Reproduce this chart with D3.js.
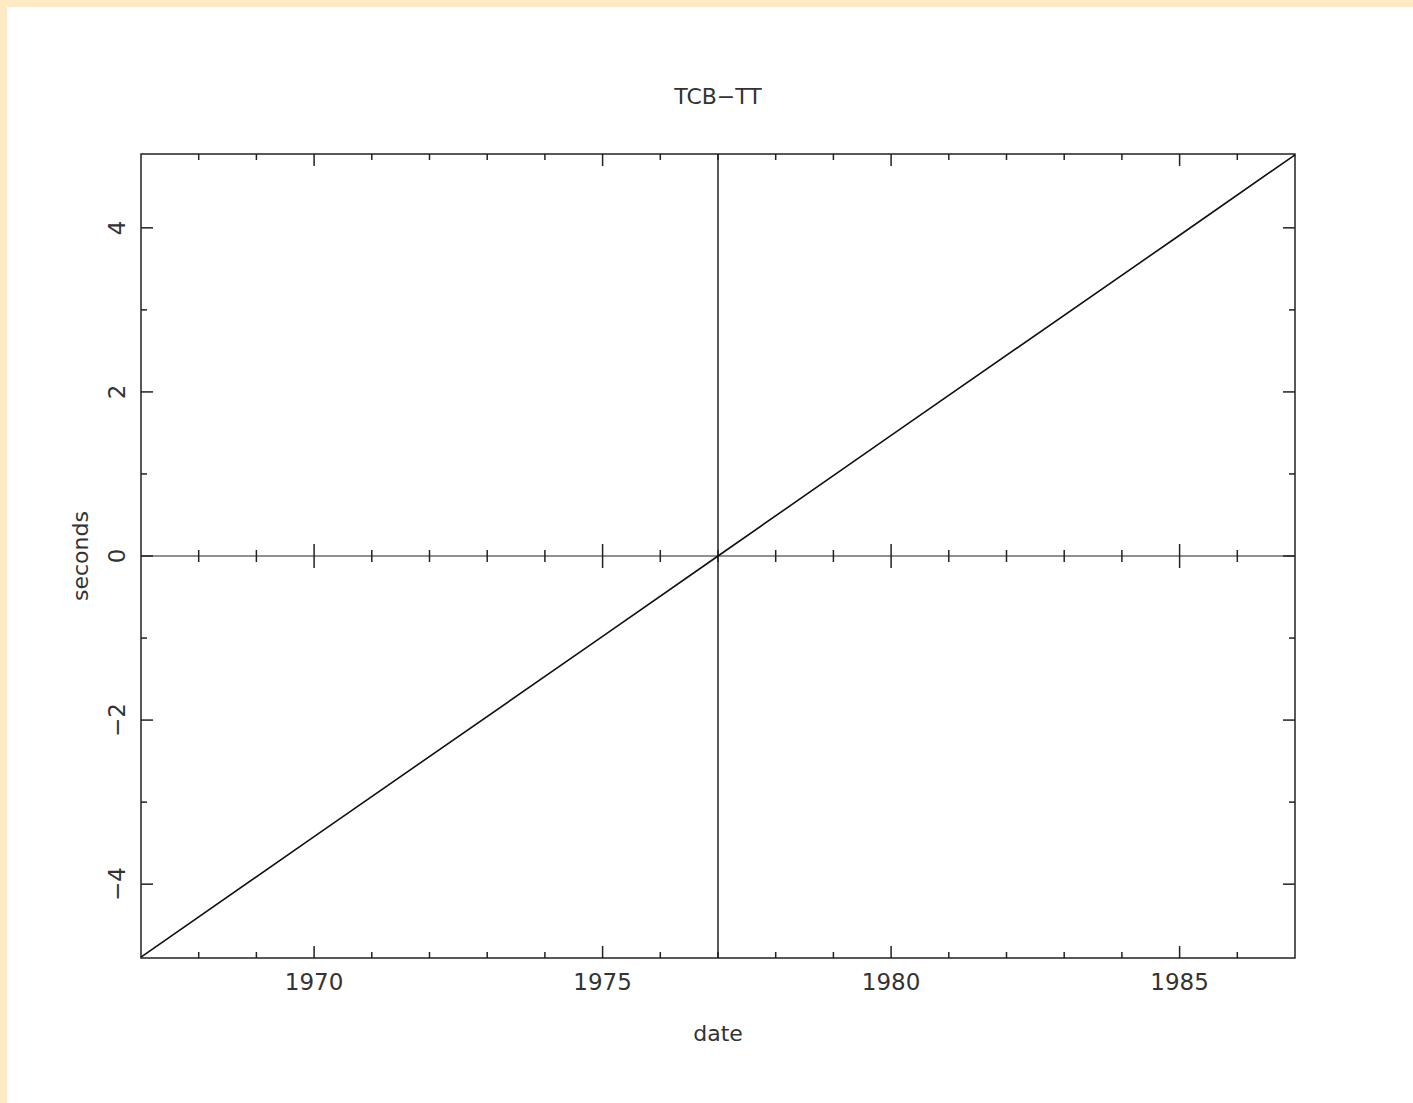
<!DOCTYPE html>
<html>
<head>
<meta charset="utf-8">
<script src="https://cdn.jsdelivr.net/npm/d3@7"></script>
<style>
  body { margin: 0; background: #ffebc3; }
  svg { display: block; }
  text { font-family: "DejaVu Sans", sans-serif; fill: #333; }
</style>
</head>
<body>
<svg id="chart" width="1413" height="1103"></svg>
<script>
// TCB-TT values (seconds)
const years = [1967, 1970, 1975, 1977, 1980, 1985, 1987];
const seconds = [-4.89, -3.42, -0.98, 0, 1.47, 3.91, 4.89];
const xMajor = [1970, 1975, 1980, 1985];
const yMajor = [-4, -2, 0, 2, 4];
const refYear = 1977;

const svg = d3.select("#chart");
svg.append("rect")
  .attr("x", 7).attr("y", 7)
  .attr("width", 1413).attr("height", 1103)
  .attr("fill", "white");

const plotLeft = 141, plotRight = 1295, plotTop = 154, plotBottom = 958;

const x = d3.scaleLinear().domain([1967, 1987]).range([plotLeft, plotRight]);
const y = d3.scaleLinear().domain([-4.9, 4.9]).range([plotBottom, plotTop]);

const ink = "#222";
const g = svg.append("g").attr("stroke", ink).attr("stroke-width", 1.5).attr("fill", "none");

// frame
g.append("rect")
  .attr("x", plotLeft).attr("y", plotTop)
  .attr("width", plotRight - plotLeft).attr("height", plotBottom - plotTop);

const xMinor = d3.range(1968, 1987).filter((d) => !xMajor.includes(d));
const yMinor = d3.range(-4, 5).filter((d) => !yMajor.includes(d));

// x ticks on top and bottom edges, pointing inward
function xTicks(values, len) {
  values.forEach((d) => {
    g.append("line").attr("x1", x(d)).attr("x2", x(d))
      .attr("y1", plotBottom).attr("y2", plotBottom - len);
    g.append("line").attr("x1", x(d)).attr("x2", x(d))
      .attr("y1", plotTop).attr("y2", plotTop + len);
    // ticks on the zero line, both sides
    g.append("line").attr("x1", x(d)).attr("x2", x(d))
      .attr("y1", y(0) - len).attr("y2", y(0) + len);
  });
}
xTicks(xMajor, 12);
xTicks(xMinor, 6);

function yTicks(values, len) {
  values.forEach((d) => {
    g.append("line").attr("x1", plotLeft).attr("x2", plotLeft + len)
      .attr("y1", y(d)).attr("y2", y(d));
    g.append("line").attr("x1", plotRight).attr("x2", plotRight - len)
      .attr("y1", y(d)).attr("y2", y(d));
  });
}
yTicks(yMajor, 12);
yTicks(yMinor, 6);

// zero line and reference epoch
g.append("line").attr("x1", plotLeft).attr("x2", plotRight)
  .attr("y1", y(0)).attr("y2", y(0)).attr("stroke-width", 1.2);
g.append("line").attr("x1", x(refYear)).attr("x2", x(refYear))
  .attr("y1", plotTop).attr("y2", plotBottom);

// data line
const line = d3.line().x((d, i) => x(years[i])).y((d) => y(d));
svg.append("path")
  .attr("d", line(seconds))
  .attr("fill", "none")
  .attr("stroke", "#111")
  .attr("stroke-width", 1.6);

// labels
svg.selectAll(".xl").data(xMajor).enter().append("text")
  .attr("x", (d) => x(d)).attr("y", 990)
  .attr("text-anchor", "middle")
  .attr("font-size", 23)
  .text((d) => d);

svg.selectAll(".yl").data(yMajor).enter().append("text")
  .attr("transform", (d) => `translate(125,${y(d)}) rotate(-90)`)
  .attr("text-anchor", "middle")
  .attr("font-size", 23)
  .text((d) => (d < 0 ? "\u2212" + Math.abs(d) : d));

svg.append("text")
  .attr("x", 718).attr("y", 104)
  .attr("text-anchor", "middle")
  .attr("font-size", 22)
  .text("TCB\u2212TT");

svg.append("text")
  .attr("x", 718).attr("y", 1041)
  .attr("text-anchor", "middle")
  .attr("font-size", 22)
  .text("date");

svg.append("text")
  .attr("transform", `translate(88,${y(0)}) rotate(-90)`)
  .attr("text-anchor", "middle")
  .attr("font-size", 22)
  .text("seconds");
</script>
</body>
</html>
